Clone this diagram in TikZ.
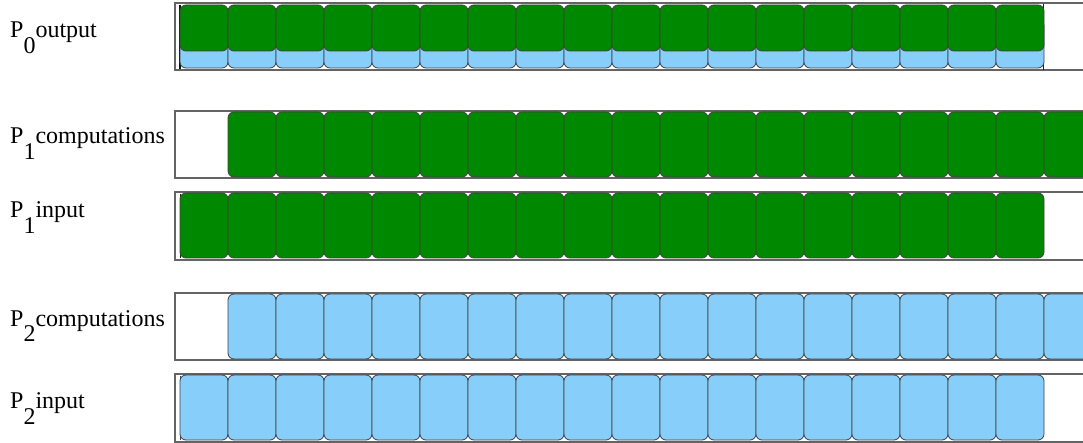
\documentclass[tikz,border=0pt]{standalone}
\usepackage{fontspec}
\setmainfont{Liberation Serif}
\definecolor{boxgreen}{RGB}{0,136,0}
\definecolor{boxblue}{RGB}{135,206,250}
\definecolor{lanegray}{RGB}{100,100,100}
\begin{document}
\begin{tikzpicture}
  [x=1pt,y=-1pt,
   lane/.style={draw=lanegray,line width=1.2pt,fill=white},
   cell/.style={draw=black!75,line width=0.8pt,rounded corners=6pt},
   gcell/.style={cell,fill=boxgreen},
   bcell/.style={cell,fill=boxblue},
   lbl/.style={anchor=base west,inner sep=0pt,font=\fontsize{24}{28}\selectfont}]
  \useasboundingbox (0,0) rectangle (1083,443);
  \clip (0,0) rectangle (1083,443);

  % Bahnen
  \draw[lane] (175,3)   rectangle (1095,70);
  \draw[lane] (175,111) rectangle (1095,178);
  \draw[lane] (175,192) rectangle (1095,260);
  \draw[lane] (175,293) rectangle (1095,360);
  \draw[lane] (175,374) rectangle (1095,442);

  % Beschriftungen
  \node[lbl] (l0)  at (10,38)  {P\raisebox{-16pt}{0}output};
  \node[lbl] (l1c) at (10,144) {P\raisebox{-16pt}{1}computations};
  \node[lbl] (l1i) at (10,218) {P\raisebox{-16pt}{1}input};
  \node[lbl] (l2c) at (10,326) {P\raisebox{-16pt}{2}computations};
  \node[lbl] (l2i) at (10,408) {P\raisebox{-16pt}{2}input};

  % schmale Anfangs- und Endmarken
  \draw[draw=black!80!boxgreen,line width=1.6pt] (180,5) -- (180,69);
  \draw[draw=black!60!boxgreen,line width=1.2pt] (1043.5,4) -- (1043.5,70);
  \draw[draw=black!60!boxgreen,line width=1.6pt] (180.5,194) -- (180.5,258);
  \draw[draw=black!70,line width=0.8pt] (180,376) -- (180,440);

  % Zellen
  \foreach \i in {0,...,17}{
    \path[bcell] (180+48*\i,20) rectangle ++(48,48);
    \path[gcell] (180+48*\i,5)  rectangle ++(48,46);
    \path[gcell] (228+48*\i,112) rectangle ++(48,65);
    \path[gcell] (180+48*\i,193) rectangle ++(48,65);
    \path[bcell] (228+48*\i,294) rectangle ++(48,65);
    \path[bcell] (180+48*\i,375) rectangle ++(48,65);
  }
\end{tikzpicture}
\end{document}
